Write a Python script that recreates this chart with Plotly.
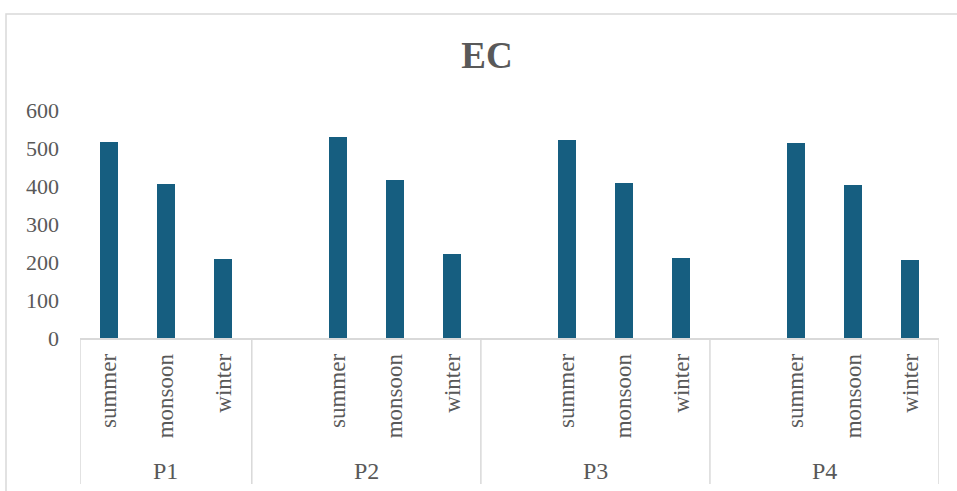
import plotly.graph_objects as go

# EC readings per sampling point and season
points = ["P1", "P2", "P3", "P4"]
seasons = ["summer", "monsoon", "winter"]
ec_p1 = [517, 406, 209]
ec_p2 = [530, 417, 220]
ec_p3 = [520, 407, 211]
ec_p4 = [514, 403, 206]
y_ticks = [0, 100, 200, 300, 400, 500, 600]

series = [ec_p1, ec_p2, ec_p3, ec_p4]

# category slots: each point after the first is preceded by an empty slot
xs, ys, labels = [], [], []
group_spans = []
slot = 0
for gi, vals in enumerate(series):
    if gi > 0:
        slot += 1
    start = slot
    for s, v in zip(seasons, vals):
        xs.append(slot)
        ys.append(v)
        labels.append(s)
        slot += 1
    group_spans.append((start - (1 if gi > 0 else 0) - 0.5, slot - 0.5))
n_slots = slot

FONT = "Liberation Serif, Times New Roman, serif"
TEXT = "#595959"
LINE = "#d9d9d9"
BAR = "#165e80"

fig = go.Figure()
fig.add_trace(go.Bar(
    x=xs, y=ys, width=0.315,
    marker=dict(color=BAR, line=dict(width=0)),
    hovertext=labels, showlegend=False,
))

shapes = []
# outer chart border
shapes.append(dict(type="rect", xref="paper", yref="paper",
                   x0=(6 - 80) / 859, x1=(970 - 80) / 859,
                   y0=(338 - 500) / 228, y1=(338 - 14) / 228,
                   line=dict(color=LINE, width=1.5)))
# group separators below the axis
edges = [group_spans[0][0]] + [g[1] for g in group_spans]
for e in edges:
    shapes.append(dict(type="line", xref="x", yref="paper",
                       x0=e, x1=e, y0=0, y1=(338 - 484) / 228,
                       line=dict(color=LINE, width=1.5)))

annotations = []
for p, (a, b) in zip(points, group_spans):
    annotations.append(dict(x=(a + b) / 2, xref="x", y=(338 - 471) / 228,
                            yref="paper", text=p, showarrow=False,
                            xanchor="center", yanchor="middle",
                            font=dict(family=FONT, size=24, color=TEXT)))

fig.update_layout(
    width=957, height=491,
    margin=dict(l=80, r=18, t=110, b=153),
    paper_bgcolor="white", plot_bgcolor="white",
    title=dict(text="<b>EC</b>", x=487 / 957, xref="container", xanchor="center",
               y=1 - 55 / 491, yref="container", yanchor="middle",
               font=dict(family=FONT, size=37, color=TEXT)),
    shapes=shapes, annotations=annotations,
    xaxis=dict(range=[-0.5, n_slots - 0.5], tickvals=xs, ticktext=labels,
               tickangle=-90, showgrid=False, zeroline=False,
               showline=True, linecolor=LINE, linewidth=1.5,
               ticks="", ticklabelstandoff=5,
               tickfont=dict(family=FONT, size=23, color=TEXT)),
    yaxis=dict(range=[0, 600], tickvals=y_ticks, showgrid=False, zeroline=False,
               showline=False, ticks="", ticklabelstandoff=20,
               tickfont=dict(family=FONT, size=22, color=TEXT)),
    bargap=0,
)

fig.write_html("out.html")
